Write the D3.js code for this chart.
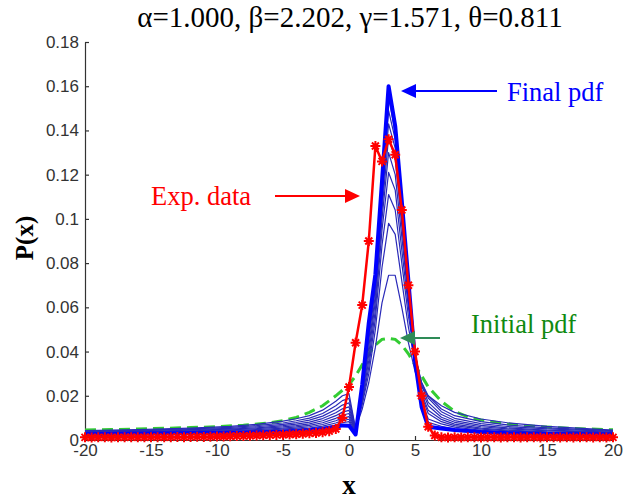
<!DOCTYPE html>
<html>
<head>
<meta charset="utf-8">
<script src="https://cdn.jsdelivr.net/npm/d3@7"></script>
<style>
  body { margin: 0; background: #fff; }
  svg { display: block; }
</style>
</head>
<body>
<div id="plot"></div>
<script>
var w = 639;
var h = 501;

var titleText = "\u03b1=1.000, \u03b2=2.202, \u03b3=1.571, \u03b8=0.811";

var xTicks = [-20, -15, -10, -5, 0, 5, 10, 15, 20];
var yTicks = [0, 0.02, 0.04, 0.06, 0.08, 0.1, 0.12, 0.14, 0.16, 0.18];
var yTickLabels = ["0", "0.02", "0.04", "0.06", "0.08", "0.1", "0.12", "0.14", "0.16", "0.18"];

// initial pdf (green dashed)
var xInit = [-20, -18, -16, -14, -12, -10, -8, -6, -5, -4, -3, -2, -1, 0, 0.5, 1, 1.5, 2, 2.5, 3,
             3.5, 4, 4.5, 5, 5.5, 6, 7, 8, 9, 10, 12, 14, 16, 18, 20];
var initPdf = [0.0045, 0.0047, 0.005, 0.0053, 0.0056, 0.006, 0.0067, 0.0078, 0.0088, 0.0102, 0.0125, 0.0155, 0.02,
               0.025, 0.029, 0.034, 0.039, 0.043, 0.0455, 0.046, 0.0455, 0.043, 0.039, 0.034, 0.029, 0.024,
               0.0175, 0.013, 0.0105, 0.009, 0.0072, 0.0062, 0.0055, 0.005, 0.0046];

// evolving pdfs (blue), the last one is the final pdf
var xEvol = [-20, -16, -12, -9, -7, -5, -4, -3, -2, -1, -0.5, 0, 0.5, 1, 1.5, 2, 2.5, 3,
             3.5, 4, 4.5, 5, 5.5, 6, 7, 8, 10, 12, 15, 20];
var evolPdfs = [
  [.0042,.0047,.0054,.0062,.0071,.0085,.0096,.011,.0135,.0175,.020,.021,.005,.014,.026,.042,.062,.0745,.0745,.06,.044,.031,.024,.020,.0155,.0125,.0095,.0078,.0062,.0045],
  [.004,.0044,.005,.0057,.0065,.0077,.0087,.0099,.012,.0155,.0178,.0188,.0048,.016,.03,.05,.078,.098,.093,.072,.051,.035,.026,.02,.014,.011,.0083,.0068,.0055,.0042],
  [.0038,.0042,.0047,.0053,.006,.0071,.0079,.009,.0108,.0138,.0158,.0168,.0045,.017,.033,.055,.088,.111,.104,.08,.056,.038,.026,.019,.0128,.0098,.0074,.0061,.005,.0039],
  [.0036,.0039,.0044,.0049,.0055,.0065,.0072,.0081,.0097,.0123,.0141,.015,.0042,.018,.036,.059,.095,.121,.113,.086,.06,.039,.025,.017,.0115,.0088,.0066,.0055,.0045,.0036],
  [.0034,.0037,.0041,.0046,.0051,.0059,.0065,.0073,.0087,.011,.0126,.0134,.004,.019,.039,.063,.1,.13,.12,.092,.063,.04,.023,.0155,.0103,.008,.006,.005,.0041,.0034],
  [.0032,.0035,.0038,.0043,.0047,.0054,.0059,.0066,.0078,.0098,.0112,.012,.0037,.02,.042,.066,.104,.137,.127,.097,.066,.04,.021,.0135,.0093,.0072,.0054,.0045,.0037,.0032],
  [.003,.0033,.0036,.004,.0043,.0049,.0054,.006,.007,.0087,.0099,.0106,.0034,.021,.045,.069,.108,.143,.132,.1,.068,.04,.02,.012,.0083,.0065,.0049,.0041,.0034,.003],
  [.0029,.0031,.0034,.0037,.004,.0045,.0049,.0054,.0063,.0077,.0088,.0094,.0031,.022,.048,.071,.111,.149,.136,.103,.07,.039,.018,.0095,.0073,.0058,.0044,.0037,.0031,.0028],
  [.0027,.0029,.0032,.0034,.0037,.0041,.0044,.0049,.0056,.0068,.0078,.0083,.0028,.023,.05,.073,.114,.155,.139,.106,.071,.038,.017,.008,.0062,.0051,.004,.0034,.0029,.0027],
  [.0026,.0028,.003,.0032,.0034,.0037,.004,.0044,.005,.006,.0066,.0065,.0025,.025,.053,.075,.117,.160,.142,.108,.072,.036,.015,.006,.0052,.0045,.0036,.0031,.0027,.0025]
];

// experimental data (red, stars), every 0.5 from -20 to 20
var xExp = d3.range(-20, 20.25, 0.5);
var expData = [
  .0012,.0011,.0012,.0012,.0011,.0012,.0012,.0013,.0012,.0012,.0013,.0013,.0012,.0013,.0014,
  .0013,.0014,.0015,.0014,.0015,.0016,.0016,.0017,.0018,.0018,.0019,.002,.0021,.0022,
  .0023,.0024,.0025,.0026,.0028,.003,.0032,.0035,.004,.005,.01,.024,.044,.061,.09,.133,.126,
  .136,.129,.104,.07,.04,.02,.006,.002,.0012,
  .0011,.0012,.0011,.0012,.0012,.0011,.0012,.0012,.0011,.0012,.0012,.0011,.0012,.0012,.0011,
  .0012,.0012,.0011,.0012,.0011,.0012,.0012,.0011,.0012,.0011,.0012
];

var plotLeft = 85, plotRight = 613, plotTop = 42, plotBottom = 440;

var xScale = d3.scaleLinear().domain([-20, 20]).range([plotLeft, plotRight]);
var yScale = d3.scaleLinear().domain([0, 0.18]).range([plotBottom, plotTop]);

var svg = d3.select("#plot")
            .append("svg")
            .attr("width", w)
            .attr("height", h);

svg.append("rect").attr("width", w).attr("height", h).attr("fill", "#fff");

// axes
var xAxis = d3.axisBottom(xScale).tickValues(xTicks).tickSize(-4).tickSizeOuter(0).tickPadding(4)
              .tickFormat(function(d) { return d; });
var yAxis = d3.axisLeft(yScale).tickValues(yTicks).tickSize(-4).tickSizeOuter(0).tickPadding(6)
              .tickFormat(function(d, i) { return yTickLabels[i]; });

var gx = svg.append("g").attr("transform", "translate(0," + plotBottom + ")").call(xAxis);
var gy = svg.append("g").attr("transform", "translate(" + plotLeft + ",0)").call(yAxis);

[gx, gy].forEach(function(g) {
  g.selectAll("path, line").attr("stroke", "#333").attr("stroke-width", 1.2);
  g.selectAll("text").attr("fill", "#333")
   .attr("font-family", "Liberation Sans")
   .attr("font-size", "17px");
});

var line = function(xs) {
  return d3.line()
           .x(function(d, i) { return xScale(xs[i]); })
           .y(function(d) { return yScale(d); });
};

// initial pdf
svg.append("path")
   .attr("d", line(xInit)(initPdf))
   .attr("fill", "none")
   .attr("stroke", "#33cc33")
   .attr("stroke-width", 3)
   .attr("stroke-dasharray", "11,6");

// evolving pdfs
svg.selectAll(".evol")
   .data(evolPdfs)
   .enter()
   .append("path")
   .attr("class", "evol")
   .attr("d", function(d) { return line(xEvol)(d); })
   .attr("fill", "none")
   .attr("stroke", function(d, i) { return i === evolPdfs.length - 1 ? "#0000ff" : "#2a2ab8"; })
   .attr("stroke-width", function(d, i) { return i === evolPdfs.length - 1 ? 4 : 1.2; })
   .attr("stroke-linejoin", "round");

// experimental data
svg.append("path")
   .attr("d", line(xExp)(expData))
   .attr("fill", "none")
   .attr("stroke", "#ff0000")
   .attr("stroke-width", 2.5);

svg.selectAll(".star")
   .data(expData)
   .enter()
   .append("path")
   .attr("class", "star")
   .attr("transform", function(d, i) { return "translate(" + xScale(xExp[i]) + "," + yScale(d) + ")"; })
   .attr("d", "M-5,0H5M0,-5V5M-3.5,-3.5L3.5,3.5M-3.5,3.5L3.5,-3.5")
   .attr("stroke", "#ff0000")
   .attr("stroke-width", 2);

// annotations
function arrow(x1, x2, y, color) {
  var dir = x2 < x1 ? 1 : -1;
  svg.append("line")
     .attr("x1", x1).attr("y1", y).attr("x2", x2 + dir * 12).attr("y2", y)
     .attr("stroke", color).attr("stroke-width", 2);
  svg.append("path")
     .attr("d", "M" + x2 + "," + y + "L" + (x2 + dir * 15) + "," + (y - 7) + "L" + (x2 + dir * 15) + "," + (y + 7) + "Z")
     .attr("fill", color);
}

arrow(497, 401, 91, "#0000ff");
arrow(275, 360, 196, "#ff0000");
arrow(440, 400, 338, "#2e8b57");

var serif = "Liberation Serif";

var notes = [
  { text: "Final pdf", x: 507, y: 101, color: "#0000ff" },
  { text: "Exp. data", x: 151, y: 205, color: "#ff0000" },
  { text: "Initial pdf", x: 471, y: 333, color: "#108a10" }
];

svg.selectAll(".note")
   .data(notes)
   .enter()
   .append("text")
   .attr("class", "note")
   .attr("x", function(d) { return d.x; })
   .attr("y", function(d) { return d.y; })
   .attr("fill", function(d) { return d.color; })
   .attr("font-family", serif)
   .attr("font-size", "26.5px")
   .text(function(d) { return d.text; });

// title and axis labels
svg.append("text")
   .attr("x", 350).attr("y", 27)
   .attr("text-anchor", "middle")
   .attr("font-family", serif)
   .attr("font-size", "29px")
   .text(titleText);

svg.append("text")
   .attr("x", 349).attr("y", 494)
   .attr("text-anchor", "middle")
   .attr("font-family", serif)
   .attr("font-weight", "bold")
   .attr("font-size", "27px")
   .text("x");

svg.append("text")
   .attr("transform", "translate(33,238) rotate(-90)")
   .attr("text-anchor", "middle")
   .attr("font-family", serif)
   .attr("font-weight", "bold")
   .attr("font-size", "25px")
   .text("P(x)");
</script>
</body>
</html>
